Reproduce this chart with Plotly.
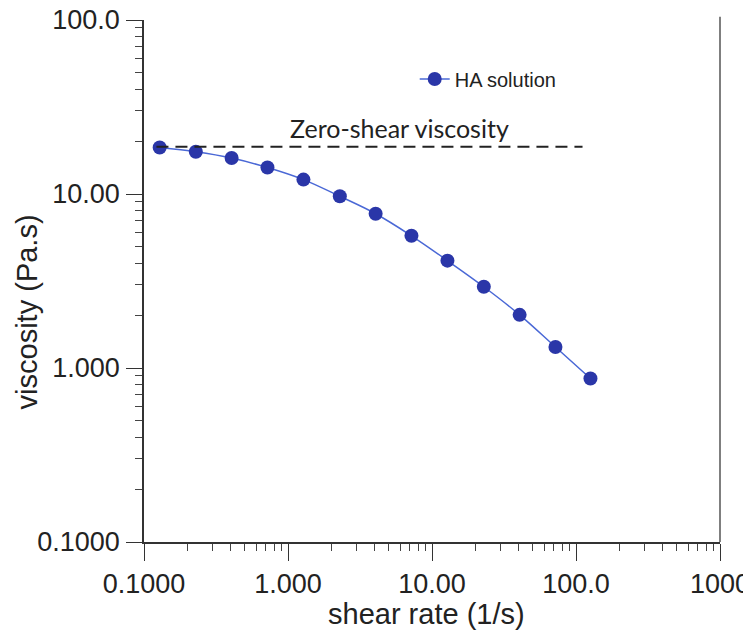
import plotly.graph_objects as go

# Data
shear_rate = [0.1285, 0.229, 0.406, 0.72, 1.28, 2.29, 4.06, 7.2, 12.8, 22.9, 40.6, 72.0, 126.0]
viscosity = [18.5, 17.5, 16.1, 14.2, 12.1, 9.7, 7.7, 5.75, 4.14, 2.93, 2.02, 1.32, 0.87]
zero_shear_x = [0.122, 111.0]
zero_shear_y = [18.7, 18.7]

x_tickvals = [0.1, 1, 10, 100, 1000]
x_ticktext = ["0.1000", "1.000", "10.00", "100.0", "1000"]
y_tickvals = [0.1, 1, 10, 100]
y_ticktext = ["0.1000", "1.000", "10.00", "100.0"]

minor_x = [m * 10 ** k for k in range(-1, 3) for m in range(2, 10)]
minor_y = [m * 10 ** k for k in range(-1, 2) for m in range(2, 10)]

fig = go.Figure()
fig.add_trace(go.Scatter(
    x=shear_rate, y=viscosity, mode="lines+markers", name="HA solution",
    line=dict(color="#4a68d6", width=1.5, shape="spline"),
    marker=dict(color="#2a36a8", size=14),
))
fig.add_trace(go.Scatter(
    x=zero_shear_x, y=zero_shear_y, mode="lines", showlegend=False,
    line=dict(color="#222222", width=2, dash="12px,7px"),
))

axis_font = dict(family="Liberation Sans, Arial", size=27, color="#222222")

fig.update_xaxes(
    type="log", range=[-1, 3], tickvals=x_tickvals, ticktext=x_ticktext,
    ticks="outside", ticklen=17, tickwidth=1.2, tickcolor="#333333",
    showline=True, linecolor="#333333", linewidth=1.5, showgrid=False, zeroline=False,
    tickfont=axis_font, automargin=False, ticklabeloverflow="allow",
    minor=dict(tickvals=minor_x, ticks="outside", ticklen=7, tickwidth=1, tickcolor="#444444", showgrid=False),
)
fig.update_yaxes(
    type="log", range=[-1, 2], tickvals=y_tickvals, ticktext=y_ticktext,
    ticks="outside", ticklen=16, tickwidth=1.2, tickcolor="#333333",
    showline=True, linecolor="#333333", linewidth=1.5, showgrid=False, zeroline=False,
    tickfont=axis_font, ticklabelstandoff=1, automargin=False, ticklabeloverflow="allow",
    minor=dict(tickvals=minor_y, ticks="outside", ticklen=7, tickwidth=1, tickcolor="#444444", showgrid=False),
)

# the page body adds an 8px offset, so the figure is sized to fit the window
fig.update_layout(
    width=743, height=622,
    margin=dict(l=136, r=31, t=12, b=88, autoexpand=False),
    plot_bgcolor="white", paper_bgcolor="white",
    showlegend=True,
    legend=dict(x=0.47, y=0.887, xanchor="left", yanchor="middle",
                font=dict(family="Liberation Sans, Arial", size=20, color="#222222"),
                bgcolor="rgba(0,0,0,0)", itemwidth=30),
    shapes=[dict(type="line", xref="paper", yref="paper", x0=1, x1=1, y0=0, y1=1.006,
                 line=dict(color="#555555", width=1.5))],
    annotations=[
        dict(text="Zero-shear viscosity", xref="paper", yref="paper",
             x=(399 - 144) / 576, y=(542 - 128) / 522, showarrow=False,
             xanchor="center", yanchor="middle",
             font=dict(family="Lato", size=25, color="#222222")),
        dict(text="shear rate (1/s)", xref="paper", yref="paper",
             x=0.49, y=-0.138, showarrow=False, xanchor="center", yanchor="middle",
             font=dict(family="Liberation Sans, Arial", size=29, color="#222222")),
        dict(text="viscosity (Pa.s)", xref="paper", yref="paper",
             x=-0.203, y=0.44, showarrow=False, textangle=-90,
             xanchor="center", yanchor="middle",
             font=dict(family="Liberation Sans, Arial", size=29, color="#222222")),
    ],
)

fig.write_html("out.html")
